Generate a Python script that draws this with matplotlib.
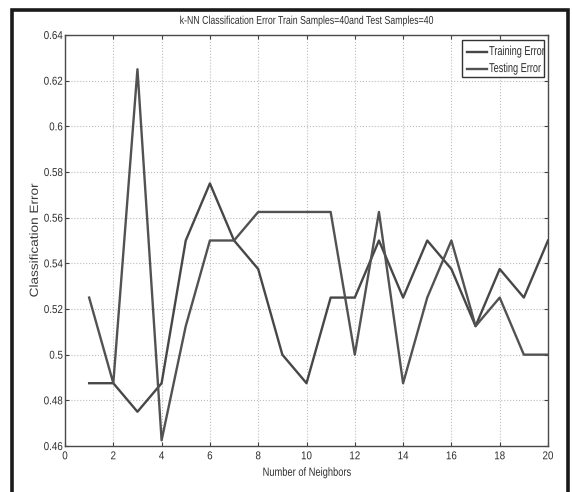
import matplotlib
matplotlib.use("Agg")
import matplotlib.pyplot as plt
from matplotlib.ticker import FuncFormatter, MultipleLocator
from matplotlib.patches import Rectangle
from matplotlib.patheffects import AbstractPathEffect
from matplotlib.transforms import Affine2D

plt.rcParams['font.family'] = ['Liberation Sans', 'DejaVu Sans']

neighbors = list(range(1, 21))
training_error = [0.4875, 0.4875, 0.475, 0.4875, 0.55, 0.575, 0.55, 0.5375, 0.5, 0.4875,
                  0.525, 0.525, 0.55, 0.525, 0.55, 0.5375, 0.5125, 0.5375, 0.525, 0.55]
testing_error = [0.525, 0.4875, 0.625, 0.4625, 0.5125, 0.55, 0.55, 0.5625, 0.5625, 0.5625,
                 0.5625, 0.5, 0.5625, 0.4875, 0.525, 0.55, 0.5125, 0.525, 0.5, 0.5]
series_labels = ['Training Error', 'Testing Error']
title_text = 'k-NN Classification Error Train Samples=40and Test Samples=40'


class Condense(AbstractPathEffect):
    """Horizontally squeeze/stretch glyph outlines (emulates a narrow font)."""
    def __init__(self, sx, anchor='center'):
        super().__init__()
        self.sx = sx
        self.anchor = anchor

    def draw_path(self, renderer, gc, tpath, affine, rgbFace=None):
        ext = tpath.get_extents()
        if self.anchor == 'right':
            x0 = ext.x1
        elif self.anchor == 'left':
            x0 = ext.x0
        else:
            x0 = 0.5 * (ext.x0 + ext.x1)
        t = Affine2D().translate(-x0, 0).scale(self.sx, 1).translate(x0, 0) + affine
        renderer.draw_path(gc, tpath, t, rgbFace)


TXT = '#2e2e2e'
fig = plt.figure(figsize=(5.72, 4.92), dpi=100)
fig.patches.append(Rectangle((12/572, -0.05), (568-12)/572, 1.05 - 9.5/492,
                             transform=fig.transFigure, fill=False,
                             edgecolor='#1a1a1a', linewidth=2.6))

ax = fig.add_axes([65/572, 46/492, (548-65)/572, (446-35)/492])
l1, = ax.plot(neighbors, training_error, color='#474747', linewidth=1.7)
l2, = ax.plot(neighbors, testing_error, color='#525252', linewidth=1.7)

ax.set_xlim(0, 20)
ax.set_ylim(0.46, 0.64)
ax.xaxis.set_major_locator(MultipleLocator(2))
ax.yaxis.set_major_locator(MultipleLocator(0.02))
ax.yaxis.set_major_formatter(FuncFormatter(lambda v, p: ('%.2f' % v).rstrip('0')))
ax.tick_params(direction='in', top=True, right=True, labelsize=8.2, length=3,
               colors='#444444', labelcolor=TXT)
ax.tick_params(axis='x', pad=3.8)
ax.tick_params(axis='y', pad=1.5)
ax.grid(True, linestyle=':', color='#bdbdbd', linewidth=0.8)
for s in ax.spines.values():
    s.set_color('#4a4a4a')
    s.set_linewidth(1.0)

for lab in ax.get_xticklabels():
    lab.set_path_effects([Condense(0.86, 'center')])
for lab in ax.get_yticklabels():
    lab.set_path_effects([Condense(0.86, 'right')])

t = ax.set_title(title_text, fontsize=8.2, color=TXT, pad=8)
t.set_path_effects([Condense(0.77, 'center')])
xl = ax.set_xlabel('Number of Neighbors', fontsize=8.6, color=TXT, labelpad=4)
xl.set_path_effects([Condense(0.78, 'center')])
yl = ax.set_ylabel('Classification Error', fontsize=8.5, color='#3a3a3a')
yl.set_path_effects([Condense(1.15, 'center')])
ax.yaxis.set_label_coords(-0.050, 0.5)

# legend box (upper right)
bx0, bx1, by0, by1 = 0.8219, 0.9917, 0.8978, 0.9878
ax.add_patch(Rectangle((bx0, by0), bx1 - bx0, by1 - by0, transform=ax.transAxes,
                       facecolor='white', edgecolor='#333333', linewidth=1.0, zorder=5))
for line, label, yy in zip([l1, l2], series_labels, [0.9586, 0.9172]):
    ax.plot([0.8323, 0.8737], [yy, yy], transform=ax.transAxes, color=line.get_color(),
            linewidth=line.get_linewidth(), zorder=6, clip_on=False)
    tx = ax.text(0.8778, yy, label, transform=ax.transAxes, fontsize=9.3, color=TXT,
                 ha='left', va='center', zorder=6)
    tx.set_path_effects([Condense(0.71, 'left')])

fig.savefig('out.png', dpi=100)
